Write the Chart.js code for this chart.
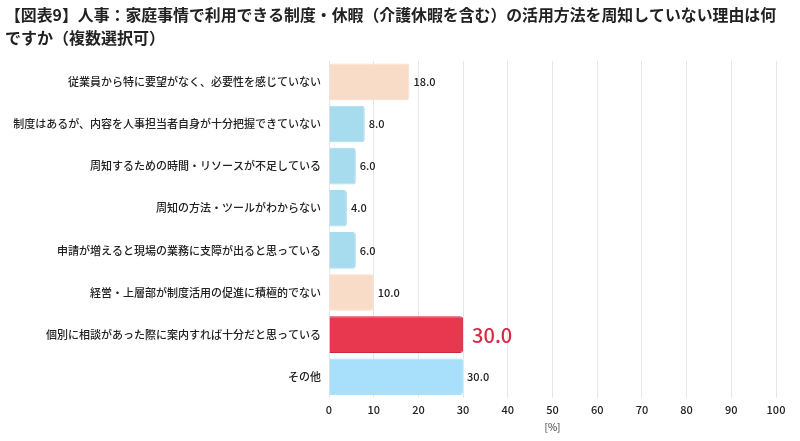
<!DOCTYPE html>
<html>
<head>
<meta charset="utf-8">
<script src="https://cdn.jsdelivr.net/npm/chart.js@4"></script>
<style>
  html, body { margin: 0; padding: 0; background: #fff; }
  #wrap { width: 800px; height: 441px; }
</style>
</head>
<body>
<div id="wrap"><canvas id="chart"></canvas></div>
<script>
var titleLines = [
    "【図表9】人事：家庭事情で利用できる制度・休暇（介護休暇を含む）の活用方法を周知していない理由は何",
    "ですか（複数選択可）"
];
var categories = [
    "従業員から特に要望がなく、必要性を感じていない",
    "制度はあるが、内容を人事担当者自身が十分把握できていない",
    "周知するための時間・リソースが不足している",
    "周知の方法・ツールがわからない",
    "申請が増えると現場の業務に支障が出ると思っている",
    "経営・上層部が制度活用の促進に積極的でない",
    "個別に相談があった際に案内すれば十分だと思っている",
    "その他"
];
var values = [18.0, 8.0, 6.0, 4.0, 6.0, 10.0, 30.0, 30.0];
var barColors = ["#f9dcc8", "#a7dcef", "#a7dcef", "#a7dcef", "#a7dcef", "#f9dcc8", "#e8384f", "#a8dffa"];
var borderColors = ["#f9dcc8", "#a7dcef", "#a7dcef", "#a7dcef", "#a7dcef", "#f9dcc8", "#c9283e", "#a8dffa"];
var highlightIndex = 6;
var xTicks = [0, 10, 20, 30, 40, 50, 60, 70, 80, 90, 100];
var xTitle = "[%]";

var fontFamily = "'Noto Sans CJK JP', 'Noto Sans', sans-serif";

// draws the value at the end of each bar
var valueLabels = {
    id: "valueLabels",
    afterDatasetsDraw: function (chart) {
        var ctx = chart.ctx;
        var meta = chart.getDatasetMeta(0);
        ctx.save();
        ctx.textBaseline = "middle";
        ctx.textAlign = "left";
        for (var i = 0; i < meta.data.length; i++) {
            var bar = meta.data[i];
            var text = values[i].toFixed(1);
            if (i == highlightIndex) {
                ctx.font = "500 20px " + fontFamily;
                ctx.fillStyle = "#d42b45";
                ctx.fillText(text, bar.x + 9, bar.y + 1);
            } else {
                ctx.font = "500 11px " + fontFamily;
                ctx.fillStyle = "#222";
                ctx.fillText(text, bar.x + 4, bar.y);
            }
        }
        ctx.restore();
    }
};

var ctx = document.getElementById("chart").getContext("2d");
var chart = new Chart(ctx, {
    type: "bar",
    data: {
        labels: categories,
        datasets: [{
            data: values,
            backgroundColor: barColors,
            borderColor: borderColors,
            borderWidth: 1,
            borderRadius: 3,
            borderSkipped: "left",
            barPercentage: 0.87,
            categoryPercentage: 1.0
        }]
    },
    options: {
        indexAxis: "y",
        responsive: true,
        maintainAspectRatio: false,
        animation: false,
        layout: { padding: { left: 5, right: 24, top: 0, bottom: 8 } },
        plugins: {
            legend: { display: false },
            tooltip: { enabled: false },
            title: {
                display: true,
                text: titleLines,
                align: "start",
                color: "#222",
                font: { family: fontFamily, size: 16, weight: "bold", lineHeight: 1.4 },
                padding: { top: 4, bottom: 12 }
            }
        },
        scales: {
            x: {
                min: 0,
                max: 100,
                afterBuildTicks: function (axis) {
                    axis.ticks = xTicks.map(function (v) { return { value: v }; });
                },
                grid: { color: "#e6e6e6", drawTicks: false },
                border: { display: false },
                ticks: {
                    color: "#222",
                    padding: 5,
                    font: { family: fontFamily, size: 11, weight: "500" }
                },
                title: {
                    display: true,
                    text: xTitle,
                    color: "#333",
                    padding: { top: 0, bottom: 0 },
                    font: { family: fontFamily, size: 10 }
                }
            },
            y: {
                grid: { display: false, drawTicks: false },
                border: { display: false },
                afterFit: function (axis) { axis.width = 324; },
                ticks: {
                    color: "#222",
                    padding: 8,
                    font: { family: fontFamily, size: 11, weight: "500" }
                }
            }
        }
    },
    plugins: [valueLabels]
});
</script>
</body>
</html>
